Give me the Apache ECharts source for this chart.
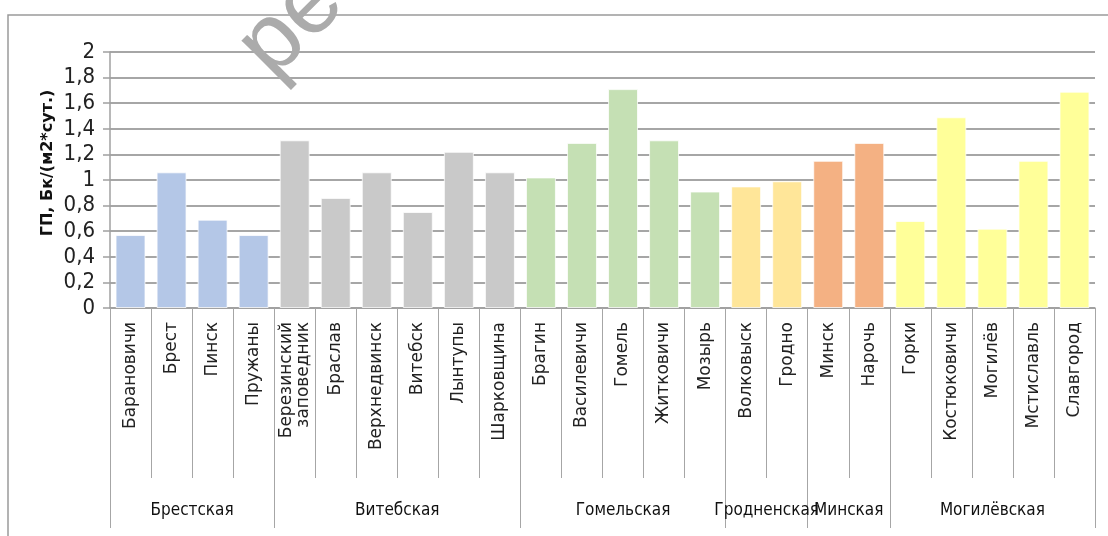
<!DOCTYPE html>
<html>
<head>
<meta charset="utf-8">
<script src="https://cdn.jsdelivr.net/npm/echarts@6/dist/echarts.min.js"></script>
<style>
html,body{margin:0;padding:0;background:#fff;}
#chart{width:1108px;height:536px;}
</style>
</head>
<body>
<div id="chart"></div>
<script>
const categories = ['Барановичи','Брест','Пинск','Пружаны','Березинский\nзаповедник','Браслав','Верхнедвинск','Витебск','Лынтупы','Шарковщина','Брагин','Василевичи','Гомель','Житковичи','Мозырь','Волковыск','Гродно','Минск','Нарочь','Горки','Костюковичи','Могилёв','Мстиславль','Славгород'];
const values = [0.57,1.06,0.69,0.57,1.31,0.86,1.06,0.75,1.22,1.06,1.02,1.29,1.71,1.31,0.91,0.95,0.99,1.15,1.29,0.68,1.49,0.62,1.15,1.69];
const groupNames = ['Брестская','Витебская','Гомельская','Гродненская','Минская','Могилёвская'];
const groupSizes = [4,6,5,2,2,5];
const groupColors = ['#B4C7E7','#C9C9C9','#C5E0B4','#FFE699','#F4B183','#FFFF99'];
const yMin = 0, yMax = 2, yStep = 0.2;
const yTitle = 'ГП, Бк/(м2*сут.)';
const watermark = 'ре';

const narrow = "'Liberation Sans Narrow','DejaVu Sans Condensed','Liberation Sans',sans-serif";

// build per-bar colours and group axis
const barData = [];
const groupSlots = new Array(categories.length * 2 + 1).fill('');
const boundaries = new Set([0]);
let start = 0;
groupSizes.forEach((n, g) => {
  for (let i = 0; i < n; i++) {
    barData.push({ value: values[start + i], itemStyle: { color: groupColors[g] } });
  }
  groupSlots[2 * start + n] = groupNames[g];
  start += n;
  boundaries.add(2 * start);
});
const slotCats = groupSlots.map((s, i) => 's' + i);

const chart = echarts.init(document.getElementById('chart'), null, { renderer: 'canvas' });
chart.setOption({
  animation: false,
  backgroundColor: '#fff',
  grid: { left: 110, right: 13, top: 52, bottom: 228, containLabel: false },
  xAxis: [
    {
      type: 'category',
      data: categories,
      position: 'bottom',
      axisLine: { show: true, lineStyle: { color: '#a0a0a0', width: 1.5 } },
      axisTick: { show: true, length: 170, lineStyle: { color: '#a6a6a6', width: 1 } },
      axisLabel: {
        interval: 0, rotate: 90, margin: 14,
        fontFamily: "'DejaVu Sans',Verdana,sans-serif", fontSize: 17, color: '#222', lineHeight: 17
      },
      splitLine: { show: false }
    },
    {
      type: 'category',
      data: slotCats,
      boundaryGap: false,
      position: 'bottom',
      axisLine: { show: false },
      axisTick: {
        show: true, length: 220,
        interval: (i) => boundaries.has(i),
        lineStyle: { color: '#a6a6a6', width: 1 }
      },
      axisLabel: {
        interval: 0, margin: 194,
        formatter: (v, i) => groupSlots[i],
        fontFamily: narrow, fontSize: 17, color: '#111'
      },
      splitLine: { show: false }
    }
  ],
  yAxis: {
    type: 'value',
    min: yMin, max: yMax, interval: yStep,
    axisLine: { show: true, lineStyle: { color: '#a0a0a0', width: 1.5 } },
    axisTick: { show: true, length: 7, lineStyle: { color: '#a0a0a0', width: 1.5 } },
    axisLabel: {
      margin: 15, fontFamily: narrow, fontSize: 22, color: '#222',
      formatter: (v) => String(Math.round(v * 10) / 10).replace('.', ',')
    },
    splitLine: { show: true, lineStyle: { color: '#a6a6a6', width: 2 } }
  },
  series: [{
    type: 'bar',
    xAxisIndex: 0,
    data: barData,
    barCategoryGap: '27%',
    itemStyle: { borderColor: 'rgba(255,255,255,0.75)', borderWidth: 1 }
  }],
  graphic: [
    {
      type: 'rect', silent: true, z: 0,
      shape: { x: 8, y: 15, width: 1200, height: 600 },
      style: { fill: 'none', stroke: '#9a9a9a', lineWidth: 1.5 }
    },
    {
      type: 'text', silent: true,
      x: 48, y: 163, rotation: Math.PI / 2,
      style: {
        text: yTitle, fontFamily: "'DejaVu Sans',sans-serif", fontWeight: 'bold', fontSize: 16,
        fill: '#111', align: 'center', verticalAlign: 'middle'
      }
    },
    {
      type: 'text', silent: true, z: 100,
      x: 254, y: 62, rotation: Math.PI / 4,
      style: {
        text: watermark, fontFamily: "'Liberation Sans',Arial,sans-serif", fontSize: 95,
        fill: '#ababab', align: 'left', verticalAlign: 'middle'
      }
    }
  ]
});
</script>
</body>
</html>
